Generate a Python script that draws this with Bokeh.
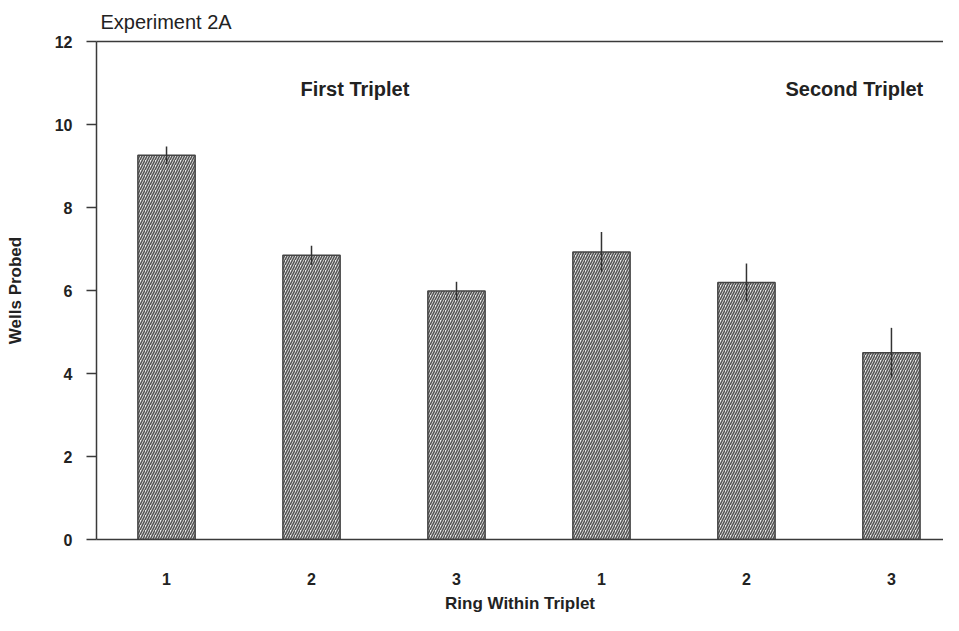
from bokeh.plotting import figure
from bokeh.models import ColumnDataSource, Label, LinearAxis, FixedTicker, Range1d
from bokeh.embed import file_html
from bokeh.resources import INLINE

# Data
ring_labels = ["1", "2", "3", "1", "2", "3"]
wells_probed = [9.26, 6.85, 5.99, 6.93, 6.19, 4.50]
sem = [0.21, 0.23, 0.22, 0.48, 0.46, 0.60]
group_labels = ["First Triplet", "Second Triplet"]
chart_title = "Experiment 2A"

positions = list(range(1, len(ring_labels) + 1))
src = ColumnDataSource(dict(
    x=positions,
    top=wells_probed,
    lo=[v - e for v, e in zip(wells_probed, sem)],
    hi=[v + e for v, e in zip(wells_probed, sem)],
))

FONT = "Liberation Sans"
AX = "#3a3a3a"

p = figure(width=943, height=615, output_backend="svg", toolbar_location=None,
           x_range=Range1d(0.517, 6.359), y_range=Range1d(0, 12),
           min_border_left=96, min_border_right=0, min_border_top=41, min_border_bottom=75,
           x_axis_location="below")
p.background_fill_color = "white"
p.border_fill_color = "white"
p.outline_line_color = None
p.grid.visible = False

p.title.text = chart_title
p.title.text_font = FONT
p.title.text_font_size = "20px"
p.title.text_font_style = "normal"
p.title.text_color = "#222222"
p.title.offset = 4
p.title.standoff = 17

p.vbar(x="x", top="top", width=0.395, bottom=0, source=src,
       fill_color="#eeeeee", line_color="#444444", line_width=1.5,
       hatch_pattern="/", hatch_color="#555555", hatch_scale=5, hatch_weight=1.6)
p.segment(x0="x", x1="x", y0="lo", y1="hi", source=src, line_color="#333333", line_width=1.5)

# axes
ya = p.yaxis[0]
ya.ticker = FixedTicker(ticks=[0, 2, 4, 6, 8, 10, 12])
ya.axis_label = "Wells Probed"
xa = p.xaxis[0]
xa.ticker = FixedTicker(ticks=positions)
xa.major_label_overrides = {pos: lab for pos, lab in zip(positions, ring_labels)}
xa.axis_label = "Ring Within Triplet"

for ax in (xa, ya):
    ax.axis_line_color = AX
    ax.axis_line_width = 1.5
    ax.major_tick_line_color = AX
    ax.major_tick_line_width = 1.5
    ax.minor_tick_line_color = None
    ax.major_label_text_font = FONT
    ax.major_label_text_font_size = "16px"
    ax.major_label_text_font_style = "bold"
    ax.major_label_text_color = "#222222"
    ax.axis_label_text_font = FONT
    ax.axis_label_text_font_size = "17px"
    ax.axis_label_text_font_style = "bold"
    ax.axis_label_text_color = "#222222"

ya.major_tick_out = 10
ya.major_tick_in = 0
ya.major_label_standoff = 14
ya.axis_label_standoff = 27
xa.major_tick_out = 0
xa.major_tick_in = 0
xa.major_label_standoff = 33
xa.axis_label_standoff = 6

top_axis = LinearAxis(ticker=FixedTicker(ticks=[]), axis_line_color=AX, axis_line_width=1.5,
                      major_tick_line_color=None, minor_tick_line_color=None,
                      major_label_text_font_size="0px")
p.add_layout(top_axis, "above")

# group annotations
for txt, gx in zip(group_labels, [1.924, 5.269]):
    p.add_layout(Label(x=gx, y=10.85, text=txt, text_font=FONT, text_font_size="20px",
                       text_font_style="bold", text_color="#222222", text_baseline="middle",
                       text_align="left"))

open("out.html", "w").write(file_html(p, INLINE))
